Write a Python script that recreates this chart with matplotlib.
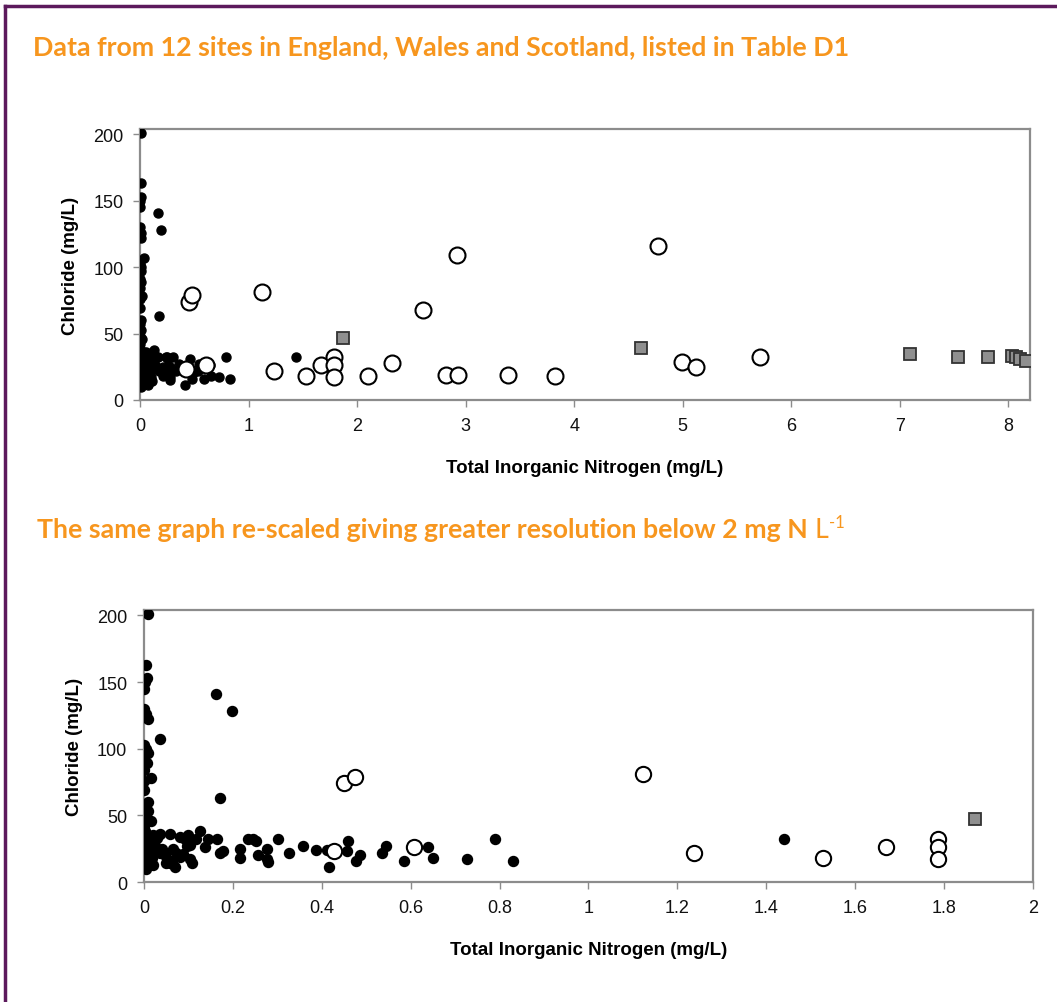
import matplotlib
matplotlib.use("Agg")
import matplotlib.pyplot as plt
from matplotlib.lines import Line2D

# Chloride vs total inorganic nitrogen, three groups of sites
filled_tin = [0.008, 0.005, 0.007, 0.003, 0.0, 0.001, 0.005, 0.01, 0.036, 0.0,
              0.005, 0.01, 0.0, 0.006, 0.0, 0.015, 0.0, 0.0, 0.008, 0.0,
              0.01, 0.0, 0.015, 0.0, 0.003, 0.0, 0.008, 0.0, 0.012, 0.0,
              0.005, 0.015, 0.0, 0.01, 0.002, 0.0, 0.012, 0.0, 0.005, 0.02,
              0.022, 0.018, 0.025, 0.02,
              0.03, 0.036, 0.04, 0.036, 0.047, 0.05, 0.058, 0.058, 0.062, 0.066,
              0.07, 0.072, 0.08, 0.081, 0.088, 0.092, 0.097, 0.1, 0.103, 0.103,
              0.107, 0.118, 0.126, 0.137, 0.144, 0.164, 0.172, 0.177, 0.162, 0.197,
              0.17,
              0.216, 0.216, 0.235, 0.245, 0.253, 0.257, 0.277, 0.277, 0.279, 0.302,
              0.327, 0.358, 0.387, 0.411, 0.417, 0.46, 0.456, 0.477, 0.487, 0.535,
              0.544, 0.585, 0.64, 0.65, 0.726, 0.79, 0.83, 1.44]
filled_cl = [201, 163, 153, 150, 145, 130, 126, 122, 107, 103,
             100, 97, 91, 89, 84, 78, 76, 69, 60, 57,
             53, 48, 46, 42, 38, 35, 33, 30, 29, 27,
             25, 24, 22, 20, 18, 15, 14, 12, 10, 35,
             30, 18, 27, 13,
             33, 36, 25, 22, 20, 14, 36, 14, 16, 25,
             11, 22, 19, 34, 21, 32, 27, 35, 28, 17,
             14, 32, 38, 26, 32, 32, 22, 23, 141, 128,
             63,
             25, 18, 32, 32, 31, 20, 25, 17, 15, 32,
             22, 27, 24, 24, 11, 31, 23, 16, 20, 22,
             27, 16, 26, 18, 17, 32, 16, 32]

open_tin = [0.427, 0.45, 0.475, 0.607, 1.122, 1.238, 1.528, 1.669, 1.787, 1.787,
            1.787, 2.10, 2.32, 2.61, 2.82, 2.93, 2.92, 3.39, 3.82, 4.77,
            4.99, 5.12, 5.71]
open_cl = [23, 74, 79, 26, 81, 21.5, 18, 26.5, 32, 26,
           17, 18, 28, 68, 19, 19, 109, 19, 18, 116,
           28.5, 25, 32]

square_tin = [1.87, 4.62, 7.09, 7.54, 7.81, 8.03, 8.07, 8.11, 8.16]
square_cl = [47, 39, 34.6, 32, 32, 33, 32, 31, 29]

orange = "#f7961e"
purple = "#5c1a5c"
frame_grey = "#8c8c8c"

fig = plt.figure(figsize=(10.57, 10.03), dpi=100)


def scatter_panel(ax, xmax, xticks, dot_size, ring_size, square_size):
    ax.plot(filled_tin, filled_cl, linestyle="none", marker="o", ms=dot_size,
            mfc="black", mec="black", zorder=3)
    ax.plot(open_tin, open_cl, linestyle="none", marker="o", ms=ring_size,
            mfc="white", mec="black", mew=1.5, zorder=4)
    ax.plot(square_tin, square_cl, linestyle="none", marker="s", ms=square_size,
            mfc="#8f8f8f", mec="#333333", mew=1.3, zorder=4)
    ax.set_xlim(0, xmax)
    ax.set_ylim(0, 204)
    ax.set_xticks(xticks)
    ax.set_xticklabels([f"{t:g}" for t in xticks])
    ax.set_yticks([0, 50, 100, 150, 200])
    for side in ax.spines.values():
        side.set_color(frame_grey)
        side.set_linewidth(1.6)
    ax.tick_params(direction="out", length=5, width=1, color=frame_grey,
                   labelsize=13, labelcolor="#111111", pad=7)
    ax.set_xlabel("Total Inorganic Nitrogen (mg/L)", fontsize=13.5,
                  fontweight="bold", labelpad=18)
    ax.set_ylabel("Chloride (mg/L)", fontsize=13.5, fontweight="bold",
                  labelpad=10)
    for lab in ax.get_xticklabels() + ax.get_yticklabels():
        lab.set_family("Liberation Sans")
    ax.xaxis.label.set_family("Liberation Sans")
    ax.yaxis.label.set_family("Liberation Sans")


ax1 = fig.add_axes([0.1325, 0.6002, 0.8420, 0.2702])
scatter_panel(ax1, 8.2, list(range(9)), 6.5, 11.5, 8)

ax2 = fig.add_axes([0.1362, 0.1196, 0.8411, 0.2712])
scatter_panel(ax2, 2.0, [0, 0.2, 0.4, 0.6, 0.8, 1, 1.2, 1.4, 1.6, 1.8, 2], 7.2, 11, 8)

title_font = dict(family=["Lato", "DejaVu Sans"],
                  fontweight="bold", color=orange, fontsize=19.3)
fig.text(33 / 1057, 1 - 48 / 1003, "Data from 12 sites in England, Wales and Scotland, listed in Table D1",
         va="center", ha="left", **title_font)

t2 = fig.text(37 / 1057, 1 - 530 / 1003,
              "The same graph re-scaled giving greater resolution below 2 mg N ",
              va="center", ha="left", **title_font)
fig.canvas.draw()
bb = t2.get_window_extent()
x_end = bb.x1 / fig.bbox.width
t3 = fig.text(x_end, 1 - 530 / 1003, "L",
              va="center", ha="left", family=["Lato", "DejaVu Sans"],
              color=orange, fontsize=19.3)
fig.canvas.draw()
bb3 = t3.get_window_extent()
fig.text(bb3.x1 / fig.bbox.width + 0.001, 1 - 523 / 1003, "-1",
         va="center", ha="left", family=["Lato", "DejaVu Sans"],
         color=orange, fontsize=12)

# page frame on the top and left edges
fig.add_artist(Line2D([5 / 1057, 1.0], [1 - 7 / 1003, 1 - 7 / 1003],
                      transform=fig.transFigure, color=purple, lw=2.5))
fig.add_artist(Line2D([5 / 1057, 5 / 1057], [0.0, 1 - 7 / 1003],
                      transform=fig.transFigure, color=purple, lw=2.5))

fig.savefig("out.png", dpi=100)
